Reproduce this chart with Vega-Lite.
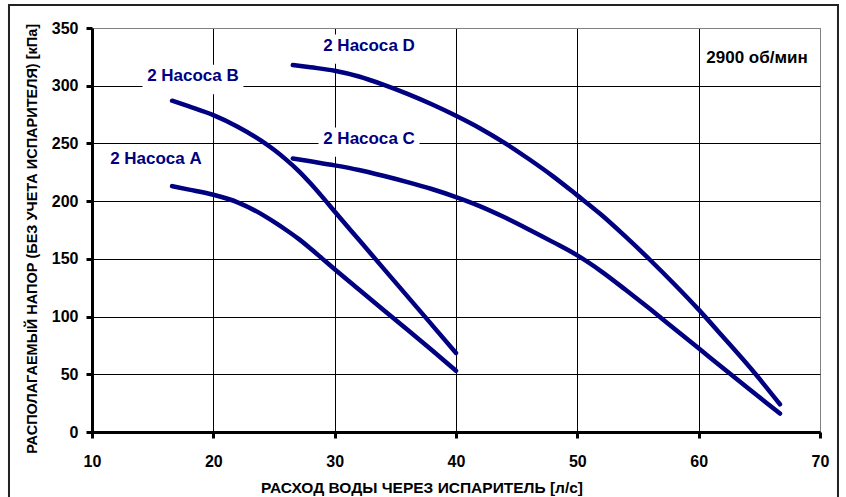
{
  "$schema": "https://vega.github.io/schema/vega-lite/v6.json",
  "width": 728,
  "height": 404,
  "autosize": "none",
  "padding": {"left": 92, "top": 28, "right": 26, "bottom": 65},
  "background": "white",
  "config": {
    "view": {"stroke": "#808080", "strokeWidth": 1},
    "font": "Liberation Sans"
  },
  "datasets": {
    "curves": [
      {"series": "A", "q": 16.6, "dp": 213},
      {"series": "A", "q": 18, "dp": 210},
      {"series": "A", "q": 20, "dp": 205.5},
      {"series": "A", "q": 22, "dp": 199},
      {"series": "A", "q": 24, "dp": 188.5},
      {"series": "A", "q": 25, "dp": 182},
      {"series": "A", "q": 26, "dp": 175},
      {"series": "A", "q": 27, "dp": 167.5},
      {"series": "A", "q": 28, "dp": 159},
      {"series": "A", "q": 29, "dp": 150},
      {"series": "A", "q": 30, "dp": 141},
      {"series": "A", "q": 32, "dp": 123.5},
      {"series": "A", "q": 34, "dp": 106},
      {"series": "A", "q": 36, "dp": 88.5},
      {"series": "A", "q": 38, "dp": 71},
      {"series": "A", "q": 40, "dp": 53},
      {"series": "B", "q": 16.6, "dp": 287},
      {"series": "B", "q": 18, "dp": 282},
      {"series": "B", "q": 20, "dp": 274.5},
      {"series": "B", "q": 22, "dp": 264.5},
      {"series": "B", "q": 24, "dp": 252},
      {"series": "B", "q": 25, "dp": 244.5},
      {"series": "B", "q": 26, "dp": 236},
      {"series": "B", "q": 27, "dp": 226.5},
      {"series": "B", "q": 28, "dp": 215.5},
      {"series": "B", "q": 29, "dp": 203.5},
      {"series": "B", "q": 30, "dp": 191},
      {"series": "B", "q": 32, "dp": 166.5},
      {"series": "B", "q": 34, "dp": 142},
      {"series": "B", "q": 36, "dp": 117.5},
      {"series": "B", "q": 38, "dp": 93},
      {"series": "B", "q": 40, "dp": 68.5},
      {"series": "C", "q": 26.55, "dp": 237},
      {"series": "C", "q": 28, "dp": 234.5},
      {"series": "C", "q": 30, "dp": 231},
      {"series": "C", "q": 32, "dp": 227},
      {"series": "C", "q": 34, "dp": 222},
      {"series": "C", "q": 36, "dp": 216.5},
      {"series": "C", "q": 38, "dp": 210.5},
      {"series": "C", "q": 40, "dp": 203.5},
      {"series": "C", "q": 42, "dp": 195.5},
      {"series": "C", "q": 44, "dp": 186},
      {"series": "C", "q": 46, "dp": 175.5},
      {"series": "C", "q": 48, "dp": 164.5},
      {"series": "C", "q": 50, "dp": 153},
      {"series": "C", "q": 52, "dp": 139},
      {"series": "C", "q": 54, "dp": 123},
      {"series": "C", "q": 56, "dp": 106.5},
      {"series": "C", "q": 58, "dp": 89.5},
      {"series": "C", "q": 60, "dp": 72.5},
      {"series": "C", "q": 62, "dp": 55.5},
      {"series": "C", "q": 64, "dp": 38.5},
      {"series": "C", "q": 66.7, "dp": 16},
      {"series": "D", "q": 26.55, "dp": 318},
      {"series": "D", "q": 28, "dp": 316},
      {"series": "D", "q": 30, "dp": 313},
      {"series": "D", "q": 32, "dp": 308},
      {"series": "D", "q": 34, "dp": 301},
      {"series": "D", "q": 36, "dp": 293},
      {"series": "D", "q": 38, "dp": 284},
      {"series": "D", "q": 40, "dp": 274},
      {"series": "D", "q": 42, "dp": 263},
      {"series": "D", "q": 44, "dp": 250.5},
      {"series": "D", "q": 46, "dp": 236.5},
      {"series": "D", "q": 48, "dp": 221.5},
      {"series": "D", "q": 50, "dp": 205},
      {"series": "D", "q": 52, "dp": 188},
      {"series": "D", "q": 54, "dp": 169},
      {"series": "D", "q": 56, "dp": 149},
      {"series": "D", "q": 58, "dp": 128},
      {"series": "D", "q": 60, "dp": 106},
      {"series": "D", "q": 62, "dp": 82.5},
      {"series": "D", "q": 64.7, "dp": 50},
      {"series": "D", "q": 66.7, "dp": 24}
    ],
    "seriesLabels": [
      {"label": "2 Насоса A", "q": 15.27, "dp": 236.1},
      {"label": "2 Насоса B", "q": 18.32, "dp": 308.0},
      {"label": "2 Насоса C", "q": 32.83, "dp": 253.8},
      {"label": "2 Насоса D", "q": 32.83, "dp": 334.4}
    ],
    "notes": [
      {"label": "2900 об/мин", "q": 64.81, "dp": 324.0}
    ]
  },
  "encoding": {
    "x": {
      "field": "q",
      "type": "quantitative",
      "scale": {"domain": [10, 70], "nice": false, "zero": false},
      "axis": {
        "values": [10, 20, 30, 40, 50, 60, 70],
        "grid": true,
        "gridColor": {"condition": {"test": "datum.value === 70", "value": "#808080"}, "value": "#000000"},
        "gridWidth": 1,
        "gridOpacity": 1,
        "domainColor": "#000000",
        "domainWidth": 3,
        "tickColor": "#000000",
        "tickWidth": 3,
        "tickSize": 6,
        "labelFont": "Liberation Sans",
        "labelFontWeight": "bold",
        "labelFontSize": 16,
        "labelColor": "#000000",
        "labelPadding": 15,
        "labelFlush": false,
        "labelOverlap": false,
        "title": "РАСХОД ВОДЫ ЧЕРЕЗ ИСПАРИТЕЛЬ [л/с]",
        "titleFont": "Liberation Sans",
        "titleFontWeight": "bold",
        "titleFontSize": 15.5,
        "titleColor": "#000000",
        "titleX": 329.5,
        "titleY": 60,
        "titleAlign": "center",
        "titleBaseline": "alphabetic"
      }
    },
    "y": {
      "field": "dp",
      "type": "quantitative",
      "scale": {"domain": [0, 350], "nice": false},
      "axis": {
        "values": [0, 50, 100, 150, 200, 250, 300, 350],
        "grid": true,
        "gridColor": {"condition": {"test": "datum.value === 350", "value": "#808080"}, "value": "#000000"},
        "gridWidth": 1,
        "gridOpacity": 1,
        "domainColor": "#000000",
        "domainWidth": 3,
        "tickColor": "#000000",
        "tickWidth": 3,
        "tickSize": 6,
        "labelFont": "Liberation Sans",
        "labelFontWeight": "bold",
        "labelFontSize": 16,
        "labelColor": "#000000",
        "labelPadding": 8,
        "labelFlush": false,
        "labelOverlap": false,
        "title": "РАСПОЛАГАЕМЫЙ НАПОР (БЕЗ УЧЕТА ИСПАРИТЕЛЯ) [кПа]",
        "titleFont": "Liberation Sans",
        "titleFontWeight": "bold",
        "titleFontSize": 14.5,
        "titleColor": "#000000",
        "titleAngle": 270,
        "titleX": -56,
        "titleY": 210.4,
        "titleAlign": "center",
        "titleBaseline": "alphabetic"
      }
    }
  },
  "layer": [
    {
      "data": {"name": "notes"},
      "mark": {
        "type": "point",
        "shape": "M-1,-0.6092H1V0.6092H-1Z",
        "size": 687241,
        "filled": false,
        "fill": null,
        "stroke": "#222222",
        "strokeWidth": 2,
        "opacity": 1,
        "strokeOpacity": 1,
        "clip": false
      },
      "encoding": {
        "x": {"datum": 37.32, "type": "quantitative"},
        "y": {"datum": 151.2, "type": "quantitative"}
      }
    },
    {
      "data": {"name": "seriesLabels"},
      "mark": {
        "type": "point",
        "shape": "M-1,-0.23H1V0.35H-1Z",
        "size": 10201,
        "filled": true,
        "fill": "white",
        "opacity": 1,
        "fillOpacity": 1,
        "strokeWidth": 0
      }
    },
    {
      "data": {"name": "curves"},
      "mark": {"type": "line", "color": "#000080", "strokeWidth": 4.5, "interpolate": "monotone", "strokeCap": "round"},
      "encoding": {"detail": {"field": "series"}}
    },
    {
      "data": {"name": "seriesLabels"},
      "mark": {"type": "text", "font": "Liberation Sans", "fontWeight": "bold", "fontSize": 17, "color": "#000080", "align": "center", "baseline": "middle"},
      "encoding": {"text": {"field": "label"}}
    },
    {
      "data": {"name": "notes"},
      "mark": {"type": "text", "font": "Liberation Sans", "fontWeight": "bold", "fontSize": 17, "color": "#000000", "align": "center", "baseline": "middle"},
      "encoding": {"text": {"field": "label"}}
    }
  ]
}
